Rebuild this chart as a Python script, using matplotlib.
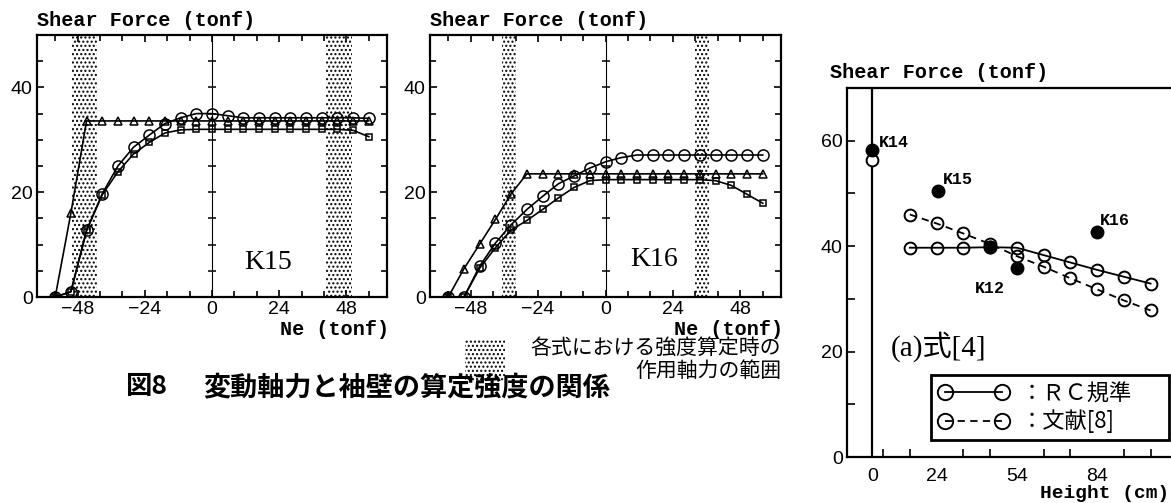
import matplotlib
matplotlib.use("Agg")
import matplotlib.pyplot as plt
from matplotlib.patches import Rectangle
import numpy as np

# axial force steps (tonf)
ne = [-56.0, -50.4, -44.8, -39.2, -33.6, -28.0, -22.4, -16.8, -11.2, -5.6, 0.0,
      5.6, 11.2, 16.8, 22.4, 28.0, 33.6, 39.2, 44.8, 50.4, 56.0]

k15_circle = [0, 1.0, 12.7, 19.7, 25.0, 28.6, 30.9, 33.1, 34.2, 35.0, 35.0,
              34.6, 34.2, 34.2, 34.2, 34.2, 34.2, 34.2, 34.2, 34.2, 34.1]
k15_square = [0, 1.0, 12.7, 19.5, 23.9, 27.3, 29.5, 31.3, 31.9, 32.0, 32.0,
              32.0, 32.0, 32.0, 32.0, 32.0, 32.0, 32.0, 32.0, 31.8, 30.6]
k15_triangle = [0, 16.0, 33.6, 33.6, 33.6, 33.6, 33.6, 33.6, 33.6, 33.6, 33.6,
                33.6, 33.6, 33.6, 33.6, 33.6, 33.6, 33.6, 33.6, 33.6, 33.6]
k15_bands = [(-50.0, -41.0), (40.7, 50.0)]

k16_circle = [0, 0, 5.9, 10.3, 13.8, 16.7, 19.2, 21.6, 23.1, 24.6, 25.8,
              26.6, 27.1, 27.1, 27.1, 27.1, 27.1, 27.1, 27.1, 27.1, 27.1]
k16_square = [0, 0, 5.5, 9.4, 12.8, 14.6, 16.7, 18.9, 20.9, 22.2, 22.4,
              22.4, 22.4, 22.4, 22.4, 22.4, 22.4, 22.2, 21.3, 19.6, 17.9]
k16_triangle = [0, 5.4, 10.1, 14.8, 19.7, 23.5, 23.5, 23.5, 23.5, 23.5, 23.5,
                23.5, 23.5, 23.5, 23.5, 23.5, 23.5, 23.5, 23.5, 23.5, 23.5]
k16_bands = [(-37.0, -31.7), (31.7, 36.7)]

# right panel: wing wall height (cm)
height = [14, 24, 34, 44, 54, 64, 74, 84, 94, 104]
rc_std = [39.7, 39.7, 39.7, 39.8, 39.7, 38.3, 36.9, 35.5, 34.2, 32.9]
ref8 = [46.0, 44.3, 42.4, 40.4, 38.1, 36.1, 33.9, 31.8, 29.7, 27.8]
test_names = ["K14", "K15", None, "K12", "K16"]
test_height = [0, 24.4, 44, 54, 83.8]
test_shear = [58.2, 50.5, 39.8, 35.9, 42.6]
k14_calc_height = [0]
k14_calc_shear = [56.3]

MONO = ["Liberation Mono", "DejaVu Sans Mono"]
CJK = ["Noto Sans CJK JP", "DejaVu Sans"]
plt.rcParams["font.family"] = ["Liberation Sans", "Noto Sans CJK JP"]
plt.rcParams["hatch.linewidth"] = 1.0

W, H = 1171, 503
fig = plt.figure(figsize=(W / 100, H / 100), dpi=100)


def px_axes(x0, y0, x1, y1):
    return fig.add_axes([x0 / W, 1 - y1 / H, (x1 - x0) / W, (y1 - y0) / H])


def ne_panel(ax, circ, sq, tri, bands, name, name_xy):
    for lo, hi in bands:
        ax.axvspan(lo, hi, facecolor="white", edgecolor="black", hatch="....",
                   linewidth=0, zorder=0)
    kw = dict(color="black", lw=1.2, mfc="none", mew=1.1)
    ax.plot(ne, tri, marker="^", ms=5.5, **kw)
    ax.plot(ne, sq, marker="s", ms=5, **kw)
    ax.plot(ne, circ, marker="o", ms=8, **kw)
    ax.set_xlim(-62.5, 62.5)
    ax.set_ylim(0, 50)
    ax.set_xticks([-48, -24, 0, 24, 48])
    ax.set_xticks(np.arange(-56, 57, 8), minor=True)
    ax.set_yticks([0, 20, 40])
    ax.set_yticks(np.arange(5, 50, 5), minor=True)
    ax.tick_params(which="both", direction="in", top=True, right=True,
                   labelsize=14, width=1.2, pad=3)
    ax.tick_params(which="major", length=5)
    ax.tick_params(which="minor", length=4)
    for s in ax.spines.values():
        s.set_linewidth(1.6)
    zero = ax.secondary_yaxis(0.5)
    zero.set_yticks(np.arange(5, 50, 5))
    zero.tick_params(direction="inout", length=6, width=1.1, labelleft=False,
                     labelright=False)
    zero.spines["left"].set_linewidth(1.6)
    ax.text(0.0, 1.02, "Shear Force (tonf)", transform=ax.transAxes,
            family=MONO, weight="bold", fontsize=14.5, va="bottom")
    ax.text(*name_xy, name, transform=ax.transAxes, family="Liberation Serif",
            fontsize=20, va="center", ha="center")
    ax.text(1.005, -0.125, "Ne (tonf)", transform=ax.transAxes, family=MONO,
            weight="bold", fontsize=14.5, ha="right", va="center")


ax1 = px_axes(37, 35, 387, 297)
ne_panel(ax1, k15_circle, k15_square, k15_triangle, k15_bands, "K15", (0.661, 0.132))

ax2 = px_axes(430, 35, 781, 297)
ne_panel(ax2, k16_circle, k16_square, k16_triangle, k16_bands, "K16", (0.637, 0.145))

# stipple key under the middle panel
fig.add_artist(Rectangle((465 / W, 1 - 381 / H), 40 / W, 41 / H,
                         transform=fig.transFigure, facecolor="white",
                         edgecolor="black", hatch="....", linewidth=0))
fig.text(781 / W, 1 - 348 / H, "各式における強度算定時の", family=CJK,
         fontsize=15, ha="right", va="center")
fig.text(781 / W, 1 - 371 / H, "作用軸力の範囲", family=CJK,
         fontsize=15, ha="right", va="center")

fig.text(125 / W, 1 - 387 / H, "図8", family=CJK, weight="bold",
         fontsize=19, ha="left", va="center")
fig.text(203 / W, 1 - 387 / H, "変動軸力と袖壁の算定強度の関係", family=CJK,
         weight="bold", fontsize=19.5, ha="left", va="center")

# right panel
ax3 = px_axes(847, 88, 1180, 457)
ax3.axvline(0, color="black", lw=1.6, zorder=1)
ax3.plot(height, rc_std, color="black", lw=1.3, marker="o", ms=8.5,
         mfc="none", mew=1.4, label="：ＲＣ規準")
ax3.plot(height, ref8, color="black", lw=1.3, ls=(0, (4, 3)), marker="o",
         ms=8.5, mfc="none", mew=1.4, label="：文献[8]")
ax3.plot(k14_calc_height, k14_calc_shear, ls="none", marker="o", ms=8.5,
         mfc="white", mec="black", mew=1.4, zorder=3)
ax3.plot(test_height, test_shear, ls="none", marker="o", ms=9, color="black",
         zorder=4)
offsets = {"K14": (6, 8), "K15": (5, 11), "K16": (3, 12), "K12": (-42, -21)}
for name, hx, sy in zip(test_names, test_height, test_shear):
    if name is None:
        continue
    ax3.annotate(name, (hx, sy), xytext=offsets[name], textcoords="offset pixels",
                 family=MONO, weight="bold", fontsize=12, va="center", ha="left")
ax3.set_xlim(-9.5, 115)
ax3.set_ylim(0, 70)
ax3.set_xticks([0, 24, 54, 84])
ax3.set_xticks(np.arange(4, 110, 10), minor=True)
ax3.set_yticks([0, 20, 40, 60])
ax3.set_yticks([10, 30, 50], minor=True)
ax3.tick_params(axis="x", which="major", length=0, pad=8, labelsize=14)
ax3.tick_params(axis="x", which="minor", direction="in", length=6, width=1.2)
ax3.tick_params(axis="y", which="both", direction="in", length=6, width=1.2,
                labelsize=14, pad=3)
for s in ax3.spines.values():
    s.set_linewidth(1.6)
ax3.text(-0.05, 1.015, "Shear Force (tonf)", transform=ax3.transAxes,
         family=MONO, weight="bold", fontsize=14.5, va="bottom")
fig.text(1040 / W, 1 - 493 / H, "Height (cm)", family=MONO, weight="bold",
         fontsize=14, ha="left", va="center")
ax3.text(0.13, 0.30, "(a)式[4]", transform=ax3.transAxes,
         family=["Liberation Serif", "Noto Sans CJK JP"], fontsize=21,
         va="center", ha="left")
leg = ax3.legend(loc="lower left", bbox_to_anchor=(0.253, 0.046, 0.714, 0.18),
                 mode="expand", borderaxespad=0, numpoints=2, handlelength=3.2,
                 handletextpad=0.5, labelspacing=0.2, borderpad=0.3,
                 fancybox=False, framealpha=1,
                 prop={"family": CJK, "size": 16}, markerscale=1.3)
leg.get_frame().set_edgecolor("black")
leg.get_frame().set_linewidth(2.0)

fig.savefig("out.png", dpi=100)
